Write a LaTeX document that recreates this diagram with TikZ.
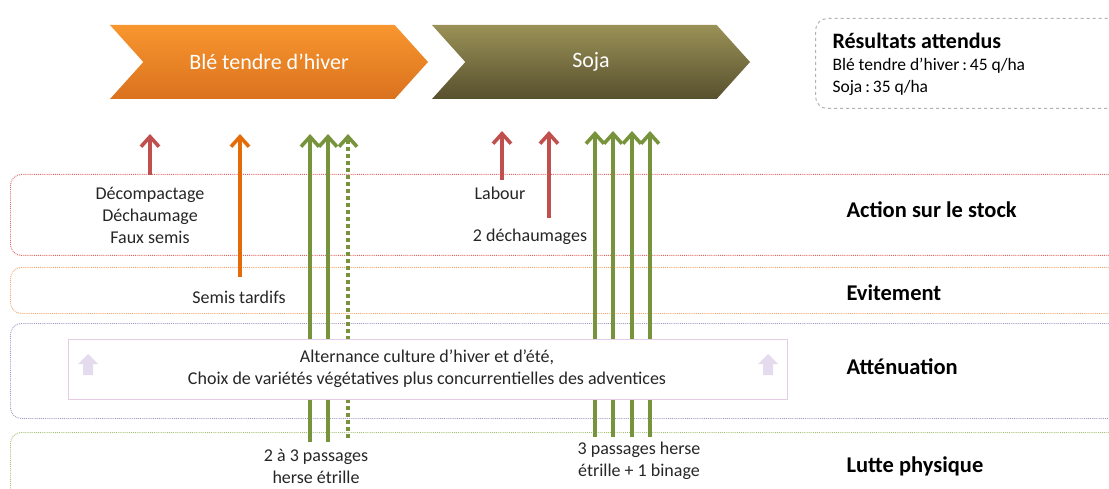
\documentclass[tikz,border=0pt]{standalone}
\usepackage{fontspec}
\setmainfont{Carlito}
\usetikzlibrary{shapes.symbols, arrows.meta, positioning}

\definecolor{redarrow}{HTML}{C0504D}
\definecolor{orangearrow}{HTML}{E36C09}
\definecolor{greenarrow}{HTML}{77933C}
\definecolor{iconfill}{HTML}{E4DCEE}
\definecolor{bletop}{HTML}{F8962F}
\definecolor{blebot}{HTML}{DA721E}
\definecolor{sojatop}{HTML}{9A9157}
\definecolor{sojabot}{HTML}{57502D}
\definecolor{stockline}{HTML}{E06666}
\definecolor{evitline}{HTML}{F2A46C}
\definecolor{attenline}{HTML}{A594C4}
\definecolor{lutteline}{HTML}{A6BE74}

\begin{document}
\begin{tikzpicture}[
    x=1pt, y=-1pt,
    crop/.style={signal, signal from=west, signal to=east, signal pointer angle=96, minimum width=318pt, minimum height=74pt, inner sep=0pt, text=white, font=\fontsize{22}{26}\selectfont},
    band/.style={draw, densely dotted, line width=0.9pt, rounded corners=11pt, minimum width=1130pt, anchor=north west, inner sep=0pt},
    label/.style={font=\fontsize{18}{22}\selectfont, align=center, text=black!85},
    rowlabel/.style={font=\fontsize{22.5}{26}\selectfont\bfseries, anchor=west},
    up/.style={line width=3.6pt, -{Straight Barb[length=10pt, width=18pt]}}
]
\useasboundingbox (0,0) rectangle (1109,489);

% Rows of the diagram
\node[band, draw=stockline, minimum height=81pt] (stock) at (10,174) {};
\node[band, draw=evitline, minimum height=46pt] (evit) at (10,267) {};
\node[band, draw=attenline, minimum height=95pt] (atten) at (10,323) {};
\node[band, draw=lutteline, minimum height=80pt] (lutte) at (10,432) {};

\node[rowlabel] (stock_lbl) at (843,210) {Action sur le stock};
\node[rowlabel] (evit_lbl) at (843,293) {Evitement};
\node[rowlabel] (atten_lbl) at (843,367) {Atténuation};
\node[rowlabel] (lutte_lbl) at (843,466) {Lutte physique};

% Crops
\node[crop, top color=bletop, bottom color=blebot] (ble) at (269,62) {Blé tendre d’hiver};
\node[crop, top color=sojatop, bottom color=sojabot] (soja) at (591,62) {Soja};

% Expected results
\node[draw=gray!60, dashed, line width=1pt, rounded corners=12pt, minimum width=310pt, minimum height=90pt, anchor=north west] (results) at (815,18) {};
\node[anchor=west, font=\fontsize{22}{26}\selectfont\bfseries] (results_title) at (829,41) {Résultats attendus};
\node[anchor=west, font=\fontsize{17.5}{21}\selectfont] (results_ble) at (829,66) {Blé tendre d’hiver\,:\,45 q/ha};
\node[anchor=west, font=\fontsize{17.5}{21}\selectfont] (results_soja) at (829,88) {Soja\,:\,35 q/ha};

% Arrow ends
\coordinate (decomp_top) at (150,134);
\coordinate (decomp_bot) at (150,175);
\coordinate (semis_top) at (240,134);
\coordinate (semis_bot) at (240,277);
\coordinate (labour_top) at (502,131);
\coordinate (labour_bot) at (502,180);
\coordinate (dech_top) at (549,131);
\coordinate (dech_bot) at (549,218);

% Arrows
\draw[up, redarrow] (decomp_bot) -- (decomp_top);
\draw[up, orangearrow] (semis_bot) -- (semis_top);
\draw[up, redarrow] (labour_bot) -- (labour_top);
\draw[up, redarrow] (dech_bot) -- (dech_top);
\foreach \x in {310, 328}
    \draw[up, greenarrow] (\x,442) -- (\x,134);
\draw[up, greenarrow, dash pattern=on 4pt off 3pt] (348,438) -- (348,134);
\foreach \x in {595, 613, 632, 650}
    \draw[up, greenarrow] (\x,437) -- (\x,131);

% Rotation box
\node[draw=violet!20, fill=white, line width=0.8pt, minimum width=719pt, minimum height=60pt, anchor=north west] (rotation) at (68,339) {};
\node[label] (rotation_txt) at (427,369) {Alternance culture d’hiver et d’été,\\Choix de variétés végétatives plus concurrentielles des adventices};
\foreach \cx in {88, 768}
    \fill[iconfill] (\cx,354) -- (\cx+10,364) -- (\cx+5,364) -- (\cx+5,375) -- (\cx-5,375) -- (\cx-5,364) -- (\cx-10,364) -- cycle;

% Labels
\node[label] (decomp) at (150,215) {Décompactage\\Déchaumage\\Faux semis};
\node[label] (semis) at (239,297) {Semis tardifs};
\node[label] (labour) at (500,193) {Labour};
\node[label] (dech) at (530,237) {2 déchaumages};
\node[label] (herse_ble) at (316,466) {2 à 3 passages\\herse étrille};
\node[label] (herse_soja) at (639,461) {3 passages herse\\étrille + 1 binage};

\end{tikzpicture}
\end{document}
